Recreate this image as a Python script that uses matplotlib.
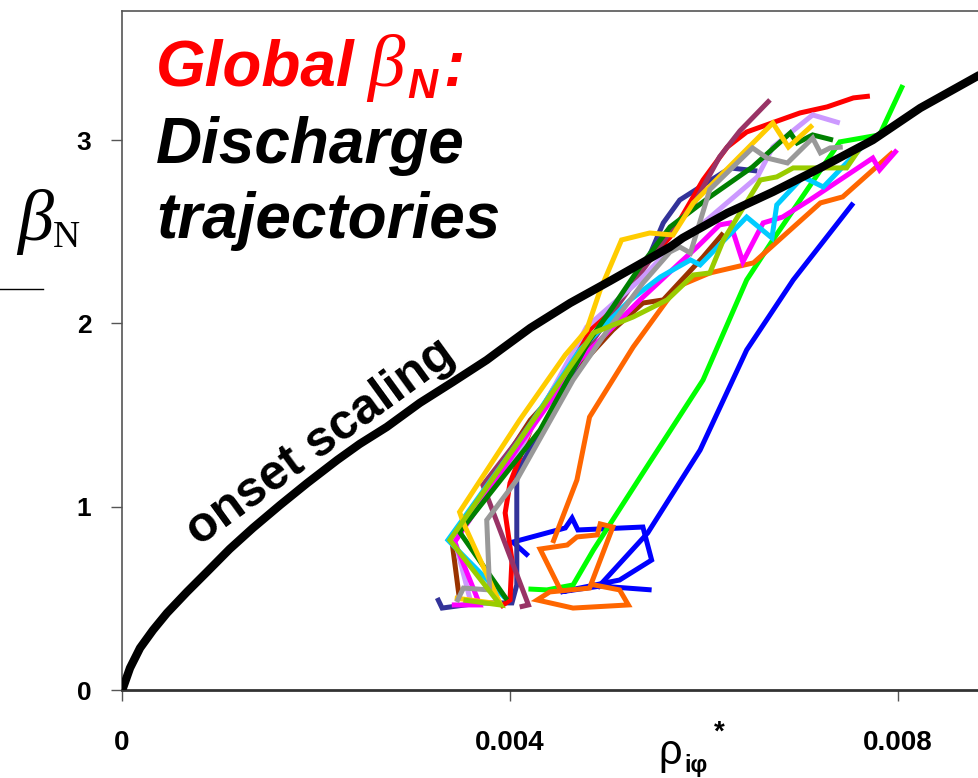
import matplotlib.pyplot as plt
from matplotlib.lines import Line2D

# onset scaling curve (rho*, beta_N)
rho_onset = [0, 0.00001, 0.0000825, 0.000186, 0.00032, 0.000464, 0.00067, 0.000876, 0.00111,
             0.00135, 0.00163, 0.00191, 0.00222, 0.00245, 0.00273, 0.00307, 0.00341, 0.00376,
             0.0039, 0.00421, 0.00462, 0.00503, 0.00534, 0.00565, 0.00578, 0.00624, 0.00671,
             0.0072, 0.00774, 0.00823, 0.00884]
beta_onset = [0, 0.011, 0.12, 0.229, 0.327, 0.42, 0.535, 0.644, 0.769,
              0.884, 1.009, 1.129, 1.255, 1.342, 1.435, 1.566, 1.68, 1.80,
              1.855, 1.975, 2.111, 2.231, 2.324, 2.417, 2.466, 2.602, 2.717,
              2.848, 3.0, 3.175, 3.355]

# discharge trajectories
rho_blue_a = [0.0049, 0.00542, 0.00596, 0.00644, 0.00692, 0.00754]
beta_blue_a = [0.556, 0.857, 1.309, 1.855, 2.237, 2.657]
rho_blue_b = [0.00419, 0.00403, 0.00457, 0.00464, 0.0047, 0.00537, 0.00546, 0.00513,
              0.00452, 0.00493, 0.00546]
beta_blue_b = [0.731, 0.807, 0.884, 0.938, 0.873, 0.889, 0.709, 0.600,
               0.535, 0.567, 0.546]

rho_green = [0.00419, 0.00438, 0.00465, 0.00486, 0.00541, 0.00599, 0.00644, 0.00671,
             0.0074, 0.00781, 0.00805]
beta_green = [0.551, 0.546, 0.573, 0.764, 1.217, 1.691, 2.237, 2.455,
              2.99, 3.028, 3.30]

rho_orange_a = [0.00444, 0.00469, 0.00482, 0.00527, 0.00572, 0.00606, 0.00651, 0.0072,
                0.00743, 0.00795]
beta_orange_a = [0.802, 1.146, 1.489, 1.871, 2.199, 2.275, 2.33, 2.657,
                 2.69, 2.935]
rho_orange_b = [0.00452, 0.00431, 0.00459, 0.00469, 0.0049, 0.00493, 0.00506, 0.00482,
                0.00441, 0.00428, 0.00465, 0.00522, 0.00513, 0.00482]
beta_orange_b = [0.546, 0.769, 0.791, 0.835, 0.846, 0.906, 0.889, 0.556,
                 0.535, 0.491, 0.447, 0.464, 0.546, 0.578]

rho_navy = [0.00325, 0.0033, 0.00369, 0.00402, 0.00407, 0.00407, 0.00407, 0.00472,
            0.00544, 0.00558, 0.00575, 0.00627, 0.00655]
beta_navy = [0.502, 0.447, 0.475, 0.475, 0.573, 0.873, 1.184, 1.80,
             2.373, 2.548, 2.673, 2.848, 2.831]

rho_red = [0.0039, 0.004, 0.00402, 0.00395, 0.004, 0.00424, 0.00444, 0.00482, 0.00521,
           0.00541, 0.00565, 0.00599, 0.00624, 0.00644, 0.00699, 0.00727, 0.00754, 0.00771]
beta_red = [0.453, 0.491, 0.709, 0.966, 1.129, 1.457, 1.637, 1.964, 2.182,
            2.33, 2.471, 2.782, 2.962, 3.044, 3.148, 3.181, 3.23, 3.24]

rho_maroon = [0.0041, 0.00419, 0.00374, 0.00372, 0.00436, 0.00493, 0.00565, 0.00589,
              0.00616, 0.00637, 0.00668]
beta_maroon = [0.453, 0.464, 1.091, 1.118, 1.555, 1.964, 2.499, 2.646,
               2.908, 3.05, 3.219]

rho_gold = [0.00343, 0.0039, 0.00352, 0.00348, 0.0041, 0.00457, 0.00479, 0.00493, 0.00515,
            0.00544, 0.00568, 0.00589, 0.0063, 0.00671, 0.00687, 0.00712]
beta_gold = [0.502, 0.469, 0.911, 0.971, 1.473, 1.828, 1.964, 2.182, 2.455,
             2.493, 2.482, 2.657, 2.875, 3.093, 2.962, 3.082]

rho_dkgreen = [0.00397, 0.00348, 0.00431, 0.00482, 0.00506, 0.00534, 0.00565, 0.00606,
               0.0065, 0.00689, 0.00696, 0.00712, 0.00733]
beta_dkgreen = [0.491, 0.862, 1.418, 1.909, 2.089, 2.308, 2.526, 2.69,
                2.853, 3.039, 2.984, 3.028, 3.0]

rho_gray = [0.00345, 0.00352, 0.00379, 0.00376, 0.00407, 0.00465, 0.00503, 0.00537, 0.00565,
            0.00575, 0.00586, 0.00606, 0.0065, 0.00665, 0.00686, 0.00712, 0.0072, 0.0073, 0.00743]
beta_gray = [0.48, 0.556, 0.546, 0.927, 1.146, 1.691, 1.98, 2.22, 2.39,
             2.417, 2.384, 2.73, 2.957, 2.902, 2.875, 3.011, 2.93, 2.957, 2.962]

rho_lavender = [0.00359, 0.00343, 0.0041, 0.00479, 0.00534, 0.00562, 0.00603, 0.00655,
                0.00671, 0.00712, 0.0074]
beta_lavender = [0.491, 0.818, 1.309, 1.98, 2.237, 2.39, 2.564, 2.799,
                 2.962, 3.137, 3.093]

rho_cyan = [0.00395, 0.00336, 0.0041, 0.00472, 0.00524, 0.00555, 0.00586, 0.00596, 0.00644,
            0.0067, 0.00675, 0.00702, 0.00723, 0.00768]
beta_cyan = [0.502, 0.818, 1.364, 1.855, 2.128, 2.253, 2.346, 2.319, 2.58,
             2.466, 2.646, 2.799, 2.744, 2.99]

rho_magenta = [0.0034, 0.00369, 0.00343, 0.0041, 0.00472, 0.00534, 0.00575, 0.00593,
               0.00616, 0.00627, 0.0064, 0.00661, 0.00681, 0.00709, 0.0074, 0.00774,
               0.00781, 0.00799]
beta_magenta = [0.464, 0.464, 0.807, 1.337, 1.80, 2.128, 2.33, 2.417,
                2.537, 2.548, 2.335, 2.548, 2.58, 2.673, 2.782, 2.902,
                2.837, 2.946]

rho_brown = [0.00348, 0.0034, 0.00421, 0.00506, 0.00537, 0.00558, 0.00599, 0.0062]
beta_brown = [0.491, 0.818, 1.473, 1.964, 2.111, 2.128, 2.362, 2.493]

rho_ygreen = [0.00352, 0.0039, 0.00338, 0.0041, 0.00486, 0.00527, 0.00562, 0.00589,
              0.00606, 0.0062, 0.00658, 0.00675, 0.00692, 0.00747, 0.00763]
beta_ygreen = [0.491, 0.464, 0.818, 1.364, 1.948, 2.035, 2.128, 2.264,
               2.275, 2.455, 2.782, 2.799, 2.848, 2.848, 2.973]

trajectories = [
    (rho_blue_a, beta_blue_a, '#0000FF'),
    (rho_blue_b, beta_blue_b, '#0000FF'),
    (rho_green, beta_green, '#00FF00'),
    (rho_orange_a, beta_orange_a, '#FF6600'),
    (rho_orange_b, beta_orange_b, '#FF6600'),
    (rho_brown, beta_brown, '#993300'),
    (rho_navy, beta_navy, '#333399'),
    (rho_red, beta_red, '#FF0000'),
    (rho_maroon, beta_maroon, '#993366'),
    (rho_lavender, beta_lavender, '#CC99FF'),
    (rho_magenta, beta_magenta, '#FF00FF'),
    (rho_cyan, beta_cyan, '#00CCFF'),
    (rho_dkgreen, beta_dkgreen, '#008000'),
    (rho_gold, beta_gold, '#FFCC00'),
    (rho_gray, beta_gray, '#999999'),
    (rho_ygreen, beta_ygreen, '#99CC00'),
]

plt.rcParams['font.family'] = ['Liberation Sans', 'DejaVu Sans']

fig = plt.figure(figsize=(9.79, 7.78), dpi=100)
ax = fig.add_axes([122 / 979, 88 / 778, 1 - 122 / 979, 679 / 778])

for rho, beta, col in trajectories:
    ax.plot(rho, beta, color=col, lw=3.6, solid_joinstyle='miter', solid_capstyle='butt')

ax.plot(rho_onset, beta_onset, color='black', lw=6, solid_capstyle='round', zorder=5)

ax.set_xlim(0, 0.008835)
ax.set_ylim(0, 3.704)
ax.set_xticks([0, 0.004, 0.008])
ax.set_xticklabels(['0', '0.004', '0.008'])
ax.set_yticks([0, 1, 2, 3])
ax.set_yticklabels(['0', '1', '2', '3'])
ax.tick_params(axis='x', length=8, width=1, color='#555555', pad=21, labelsize=20)
ax.tick_params(axis='y', length=8, width=1, color='#555555', pad=14, labelsize=19)
for lab in ax.get_xticklabels() + ax.get_yticklabels():
    lab.set_fontweight('bold')

ax.spines['right'].set_visible(False)
ax.spines['left'].set_color('#555555')
ax.spines['left'].set_linewidth(1.2)
ax.spines['top'].set_color('#555555')
ax.spines['top'].set_linewidth(1.2)
ax.spines['bottom'].set_color('#333333')
ax.spines['bottom'].set_linewidth(2)

# heading text
bold_it = dict(fontweight='bold', fontstyle='italic', fontsize=46)
ax.text(0.04, 0.89, 'Global', color='#FF0000', transform=ax.transAxes, **bold_it)
ax.text(0.286, 0.89, 'β', color='#FF0000', transform=ax.transAxes, fontsize=54,
        fontstyle='italic', family='Liberation Serif')
ax.text(0.333, 0.872, 'N', color='#FF0000', transform=ax.transAxes, fontsize=30,
        fontweight='bold', fontstyle='italic')
ax.text(0.375, 0.89, ':', color='#FF0000', transform=ax.transAxes, **bold_it)
ax.text(0.04, 0.776, 'Discharge', color='black', transform=ax.transAxes, **bold_it)
ax.text(0.04, 0.666, 'trajectories', color='black', transform=ax.transAxes, **bold_it)

ax.text(0.00205, 1.348, 'onset scaling', rotation=36, rotation_mode='anchor',
        ha='center', va='center', fontsize=36, fontweight='bold')

# axis labels
fig.text(17 / 979, 1 - 240 / 778, 'β', fontsize=52, fontstyle='italic',
         family='Liberation Serif')
fig.text(53 / 979, 1 - 247 / 778, 'N', fontsize=27, family='Liberation Serif')
fig.add_artist(Line2D([0, 43 / 979], [1 - 289 / 778] * 2, color='black', lw=1))

fig.text(658 / 979, 1 - 764 / 778, 'ρ', fontsize=30)
fig.text(684 / 979, 1 / 778, 'iφ', fontsize=17, fontweight='bold', va='bottom')
fig.text(714 / 979, 1 - 740 / 778, '*', fontsize=20, fontweight='bold')

fig.savefig('out.png', dpi=100)
